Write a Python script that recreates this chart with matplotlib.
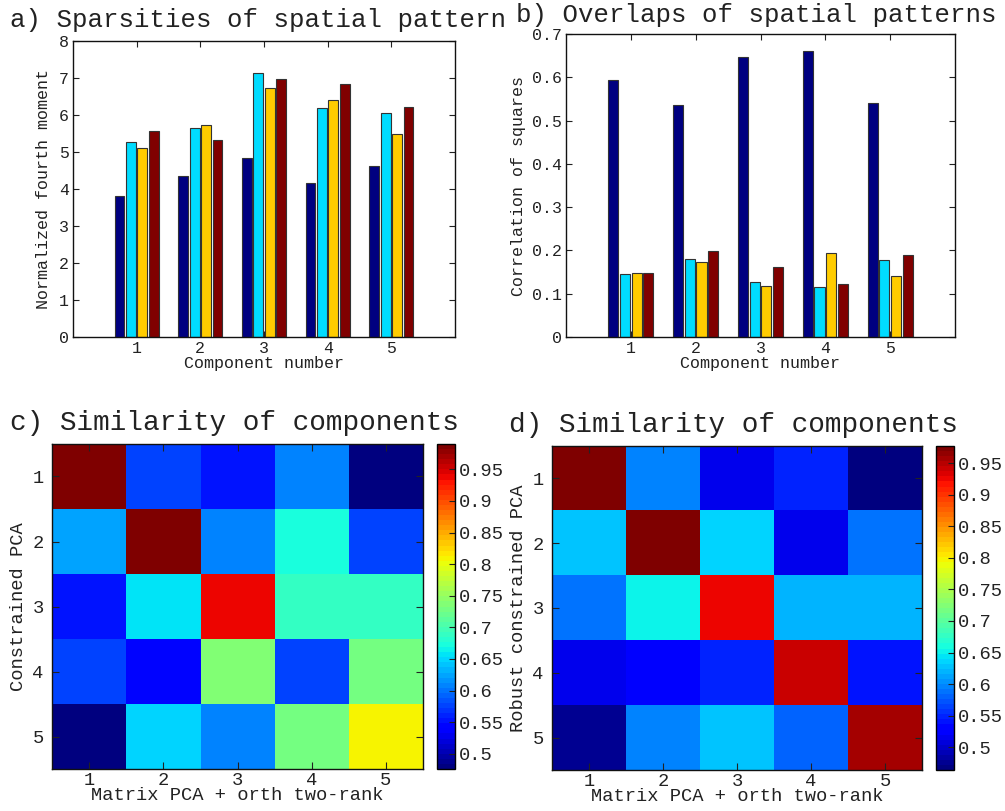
import numpy as np
import matplotlib
matplotlib.use('Agg')
from matplotlib import pyplot as plt

# bar data: 5 components x 4 methods
components = [1, 2, 3, 4, 5]
bar_colors = ['#000080', '#00dcff', '#ffcc00', '#800000']

sparsity_m1 = [3.80, 4.35, 4.85, 4.17, 4.63]
sparsity_m2 = [5.27, 5.65, 7.13, 6.20, 6.05]
sparsity_m3 = [5.10, 5.72, 6.73, 6.40, 5.50]
sparsity_m4 = [5.58, 5.32, 6.98, 6.85, 6.22]

overlap_m1 = [0.594, 0.535, 0.647, 0.660, 0.540]
overlap_m2 = [0.146, 0.180, 0.128, 0.115, 0.177]
overlap_m3 = [0.147, 0.173, 0.117, 0.194, 0.142]
overlap_m4 = [0.149, 0.199, 0.161, 0.123, 0.190]

# similarity matrices (rows: y method, cols: matrix PCA + orth two-rank)
sim_c = [
    [0.990, 0.580, 0.553, 0.611, 0.476],
    [0.622, 0.988, 0.611, 0.676, 0.580],
    [0.556, 0.660, 0.941, 0.685, 0.685],
    [0.576, 0.548, 0.733, 0.576, 0.728],
    [0.478, 0.645, 0.611, 0.725, 0.812],
]
sim_d = [
    [0.977, 0.600, 0.520, 0.551, 0.464],
    [0.628, 0.975, 0.637, 0.520, 0.592],
    [0.585, 0.649, 0.928, 0.624, 0.620],
    [0.520, 0.525, 0.551, 0.938, 0.541],
    [0.477, 0.597, 0.631, 0.577, 0.953],
]
cbar_ticks = [0.5, 0.55, 0.6, 0.65, 0.7, 0.75, 0.8, 0.85, 0.9, 0.95]
cbar_labels = ['0.5', '0.55', '0.6', '0.65', '0.7', '0.75', '0.8', '0.85', '0.9', '0.95']

plt.rcParams['font.family'] = ['Liberation Mono', 'DejaVu Sans Mono']
plt.rcParams['text.color'] = '#222222'
plt.rcParams['axes.labelcolor'] = '#222222'
plt.rcParams['xtick.color'] = '#222222'
plt.rcParams['ytick.color'] = '#222222'

W, H = 1005, 811
fig = plt.figure(figsize=(W / 100, H / 100), dpi=100)


def px_axes(x0, y0, x1, y1):
    return fig.add_axes([x0 / W, 1 - y1 / H, (x1 - x0) / W, (y1 - y0) / H])


def box_ticks(ax, size):
    ax.tick_params(direction='in', top=True, right=True, length=4,
                   width=0.8, labelsize=size, pad=3)
    for s in ax.spines.values():
        s.set_linewidth(1.0)
        s.set_color('#111111')


def bars(ax, series):
    x = np.array(components, dtype=float)
    offs = [-0.27, -0.09, 0.09, 0.27]
    for vals, off, col in zip(series, offs, bar_colors):
        ax.bar(x + off, vals, width=0.155, color=col, edgecolor='#333333',
               linewidth=0.8, zorder=2)
    ax.set_xlim(0, 6)
    ax.set_xticks(components)


# a) sparsities
ax_a = px_axes(73, 41, 455, 337)
bars(ax_a, [sparsity_m1, sparsity_m2, sparsity_m3, sparsity_m4])
ax_a.set_ylim(0, 8)
ax_a.set_yticks(range(0, 9))
box_ticks(ax_a, 12)
ax_a.set_xlabel('Component number', fontsize=12, labelpad=0)
ax_a.set_ylabel('Normalized fourth moment', fontsize=12, labelpad=6)
fig.text(10 / W, 1 - 20 / H, 'a) Sparsities of spatial pattern', fontsize=18.5,
         ha='left', va='center')

# b) overlaps
ax_b = px_axes(566, 34, 955, 337)
bars(ax_b, [overlap_m1, overlap_m2, overlap_m3, overlap_m4])
ax_b.set_ylim(0, 0.7)
ax_b.set_yticks(np.arange(0, 0.71, 0.1))
ax_b.set_yticklabels(['0', '0.1', '0.2', '0.3', '0.4', '0.5', '0.6', '0.7'])
box_ticks(ax_b, 12)
ax_b.set_xlabel('Component number', fontsize=12, labelpad=0)
ax_b.set_ylabel('Correlation of squares', fontsize=12, labelpad=4)
fig.text(516 / W, 1 - 15 / H, 'b) Overlaps of spatial patterns', fontsize=18.5,
         ha='left', va='center')

jet64 = plt.get_cmap('jet', 64)


def heat(box, cbox, data, ylab, title, tx, ty):
    ax = px_axes(*box)
    arr = np.array(data)
    im = ax.imshow(arr, cmap=jet64, vmin=arr.min(), vmax=arr.max(),
                   aspect='auto', interpolation='nearest',
                   extent=(0.5, 5.5, 5.5, 0.5))
    ax.set_xticks(components)
    ax.set_yticks(components)
    box_ticks(ax, 13.5)
    ax.tick_params(length=5)
    ax.tick_params(axis='x', pad=2)
    ax.tick_params(axis='y', pad=6)
    ax.set_xlabel('Matrix PCA + orth two-rank', fontsize=13.5, labelpad=-1)
    ax.set_ylabel(ylab, fontsize=13.5, labelpad=4)
    cax = px_axes(*cbox)
    cb = fig.colorbar(im, cax=cax)
    cb.set_ticks(cbar_ticks)
    cb.set_ticklabels(cbar_labels)
    cax.tick_params(direction='in', length=4, width=0.8, labelsize=13.5, pad=3)
    cb.outline.set_linewidth(1.0)
    fig.text(tx / W, 1 - ty / H, title, fontsize=20, ha='left', va='center')
    return ax


heat((52, 444, 423, 769), (437, 444, 455, 769), sim_c, 'Constrained PCA',
     'c) Similarity of components', 10, 423)
heat((552, 446, 922, 770), (936, 446, 954, 770), sim_d, 'Robust constrained PCA',
     'd) Similarity of components', 509, 425)

fig.savefig('out.png', dpi=100)
